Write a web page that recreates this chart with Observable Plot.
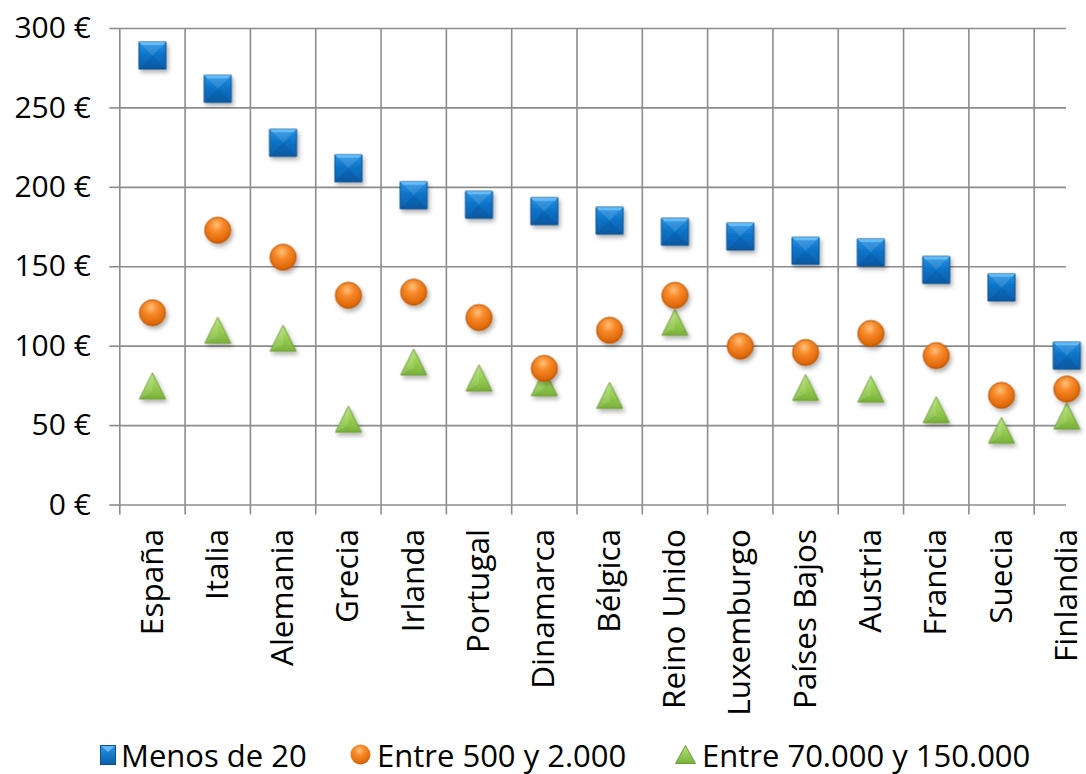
<!DOCTYPE html>
<html>
<head>
<meta charset="utf-8">
<script src="https://cdn.jsdelivr.net/npm/d3@7"></script>
<script src="https://cdn.jsdelivr.net/npm/@observablehq/plot@0.6"></script>
<style>
  html, body { margin: 0; padding: 0; background: #fff; overflow: hidden; }
  #wrap { position: relative; width: 1086px; height: 774px; font-family: "Open Sans", sans-serif; }
  #legend { position: absolute; left: 0; top: 733.7px; width: 1086px; height: 42px; font-size: 31px; color: #000; }
  #legend .item { position: absolute; top: 0; height: 42px; line-height: 42px; display: flex; align-items: center; white-space: nowrap; }
  #legend svg { display: block; }
</style>
</head>
<body>
<div id="wrap">
  <div id="chart"></div>
  <div id="legend"></div>
</div>
<script>
const countries = ["España","Italia","Alemania","Grecia","Irlanda","Portugal","Dinamarca","Bélgica","Reino Unido","Luxemburgo","Países Bajos","Austria","Francia","Suecia","Finlandia"];
const menos20    = [283,262,228,212,195,189,185,179,172,169,160,159,148,137,94];
const entre500   = [121,173,156,132,134,118,86,110,132,100,96,108,94,69,73];
const entre70000 = [75,110,105,54,90,80,77,69,115,null,74,73,60,47,56];
const yTicks = [0,50,100,150,200,250,300];
const seriesNames = ["Menos de 20","Entre 500 y 2.000","Entre 70.000 y 150.000"];

const rows = countries.map((c, i) => ({country: c, pos: i + 0.5, a: menos20[i], b: entre500[i], c: entre70000[i]}));
const boundaries = d3.range(countries.length + 1);
const centers = countries.map((c, i) => i + 0.5);

function half(size) { return Math.sqrt(size / Math.PI); }
const squareSym = {draw(ctx, size) { const r = half(size); ctx.moveTo(-r,-r); ctx.lineTo(r,-r); ctx.lineTo(r,r); ctx.lineTo(-r,r); ctx.closePath(); }};
const topFacet = {draw(ctx, size) { const r = half(size); ctx.moveTo(-r,-r); ctx.lineTo(r,-r); ctx.lineTo(0,0); ctx.closePath(); }};
const bottomFacet = {draw(ctx, size) { const r = half(size); ctx.moveTo(-r,r); ctx.lineTo(r,r); ctx.lineTo(0,0); ctx.closePath(); }};
const topBand = {draw(ctx, size) { const r = half(size); const b = r*0.22; ctx.moveTo(-r,-r); ctx.lineTo(r,-r); ctx.lineTo(r-b,-r+b); ctx.lineTo(-r+b,-r+b); ctx.closePath(); }};
const circleSym = {draw(ctx, size) { const r = half(size); ctx.moveTo(r,0); ctx.arc(0,0,r,0,2*Math.PI); ctx.closePath(); }};
const triSym = {draw(ctx, size) { const r = half(size); ctx.moveTo(0,-r); ctx.lineTo(r,r); ctx.lineTo(-r,r); ctx.closePath(); }};
const triLeft = {draw(ctx, size) { const r = half(size); ctx.moveTo(0,-r); ctx.lineTo(0,r*0.45); ctx.lineTo(-r,r); ctx.closePath(); }};

const grid = "#8c8c8c";

const plot = Plot.plot({
  width: 1086,
  height: 730,
  marginTop: 28,
  marginBottom: 225.5,
  marginLeft: 119.3,
  style: {fontFamily: "Open Sans, sans-serif", fontSize: "30px", color: "#000", background: "transparent"},
  x: {type: "linear", domain: [0, countries.length], range: [119.3, 1099]},
  y: {domain: [0, 300], ticks: yTicks},
  marks: [
    Plot.gridY(yTicks, {stroke: grid, strokeOpacity: 1, strokeWidth: 1.6}),
    Plot.gridX(boundaries, {stroke: grid, strokeOpacity: 1, strokeWidth: 1.6}),
    Plot.axisY(yTicks, {tickSize: 10, tickPadding: 19, stroke: grid, strokeWidth: 1.6, fill: "#000", fontSize: 30, tickFormat: d => `${d} €`, label: null}),
    Plot.axisX(boundaries, {tickSize: 10, stroke: grid, strokeWidth: 1.6, tickFormat: () => "", label: null}),
    Plot.axisX(centers, {tickSize: 0, tickPadding: 24, tickRotate: -90, fill: "#000", fontSize: 31.5, tickFormat: v => countries[Math.floor(v)], label: null}),
    // Entre 70.000 y 150.000
    Plot.dot(rows.filter(d => d.c != null), {x: "pos", y: "c", r: 13, symbol: triSym, fill: "url(#gGreen)", stroke: "#6d9a34", strokeWidth: 1}),
    Plot.dot(rows.filter(d => d.c != null), {x: "pos", y: "c", r: 13, symbol: triLeft, fill: "#ffffff", fillOpacity: 0.12}),
    // Entre 500 y 2.000
    Plot.dot(rows, {x: "pos", y: "b", r: 13, symbol: circleSym, fill: "url(#gOrange)", stroke: "#b55200", strokeWidth: 1}),
    // Menos de 20
    Plot.dot(rows, {x: "pos", y: "a", r: 13.5, symbol: squareSym, fill: "url(#gBlue)", stroke: "#0b4f8c", strokeWidth: 1}),
    Plot.dot(rows, {x: "pos", y: "a", r: 13.5, symbol: topFacet, fill: "#ffffff", fillOpacity: 0.12}),
    Plot.dot(rows, {x: "pos", y: "a", r: 13.5, symbol: bottomFacet, fill: "#002a55", fillOpacity: 0.12}),
    Plot.dot(rows, {x: "pos", y: "a", r: 13.5, symbol: topBand, fill: "#6cc4ff", fillOpacity: 0.8})
  ]
});

const svg = d3.select(plot);
const defs = svg.insert("defs", ":first-child");
function linGrad(id, stops) {
  const g = defs.append("linearGradient").attr("id", id).attr("x1", 0).attr("y1", 0).attr("x2", 0).attr("y2", 1);
  stops.forEach(([o, c]) => g.append("stop").attr("offset", o).attr("stop-color", c));
}
linGrad("gBlue", [[0, "#2a93e4"], [0.5, "#0a72c6"], [1, "#0860ae"]]);
linGrad("gGreen", [[0, "#b5e37e"], [0.55, "#95cc4f"], [1, "#79b03a"]]);
const rg = defs.append("radialGradient").attr("id", "gOrange").attr("cx", 0.45).attr("cy", 0.3).attr("r", 0.75);
[[0, "#ffc27a"], [0.35, "#f8892a"], [0.8, "#e06a0a"], [1, "#b95200"]].forEach(([o, c]) => rg.append("stop").attr("offset", o).attr("stop-color", c));
const f = defs.append("filter").attr("id", "shadow").attr("x", "-50%").attr("y", "-50%").attr("width", "200%").attr("height", "200%");
f.append("feDropShadow").attr("dx", 2).attr("dy", 3).attr("stdDeviation", 2).attr("flood-color", "#000").attr("flood-opacity", 0.3);
svg.selectAll('g[aria-label="dot"]').each(function() {
  const g = d3.select(this);
  const fill = g.attr("fill") || "";
  if (fill.startsWith("url(")) g.attr("filter", "url(#shadow)");
});
document.getElementById("chart").appendChild(plot);

// Legend
const legendSymbols = [
  `<svg width="16" height="20" viewBox="0 0 16 20" style="margin-right:5px"><defs><linearGradient id="lb" x1="0" y1="0" x2="0" y2="1"><stop offset="0" stop-color="#2a93e4"/><stop offset="1" stop-color="#0860ae"/></linearGradient></defs><rect x="0.5" y="0.5" width="15" height="19" fill="url(#lb)" stroke="#0b4f8c"/><path d="M1 1 L15 1 L8 7 Z" fill="#6cc4ff" opacity="0.8"/></svg>`,
  `<svg width="21" height="21" viewBox="0 0 21 21" style="margin-right:6px"><defs><radialGradient id="lo" cx="0.45" cy="0.3" r="0.75"><stop offset="0" stop-color="#ffc27a"/><stop offset="0.35" stop-color="#f8892a"/><stop offset="0.8" stop-color="#e06a0a"/><stop offset="1" stop-color="#b95200"/></radialGradient></defs><circle cx="10.5" cy="10.5" r="10" fill="url(#lo)"/></svg>`,
  `<svg width="21" height="19" viewBox="0 0 21 19" style="margin-right:6px"><defs><linearGradient id="lg" x1="0" y1="0" x2="0" y2="1"><stop offset="0" stop-color="#b5e37e"/><stop offset="1" stop-color="#79b03a"/></linearGradient></defs><path d="M10.5 0.5 L20.5 18.5 L0.5 18.5 Z" fill="url(#lg)" stroke="#6d9a34"/></svg>`
];
const legend = document.getElementById("legend");
const lefts = [100, 350, 675];
seriesNames.forEach((name, i) => {
  const item = document.createElement("div");
  item.className = "item";
  item.style.left = lefts[i] + "px";
  item.innerHTML = legendSymbols[i] + `<span>${name}</span>`;
  legend.appendChild(item);
});
</script>
</body>
</html>
